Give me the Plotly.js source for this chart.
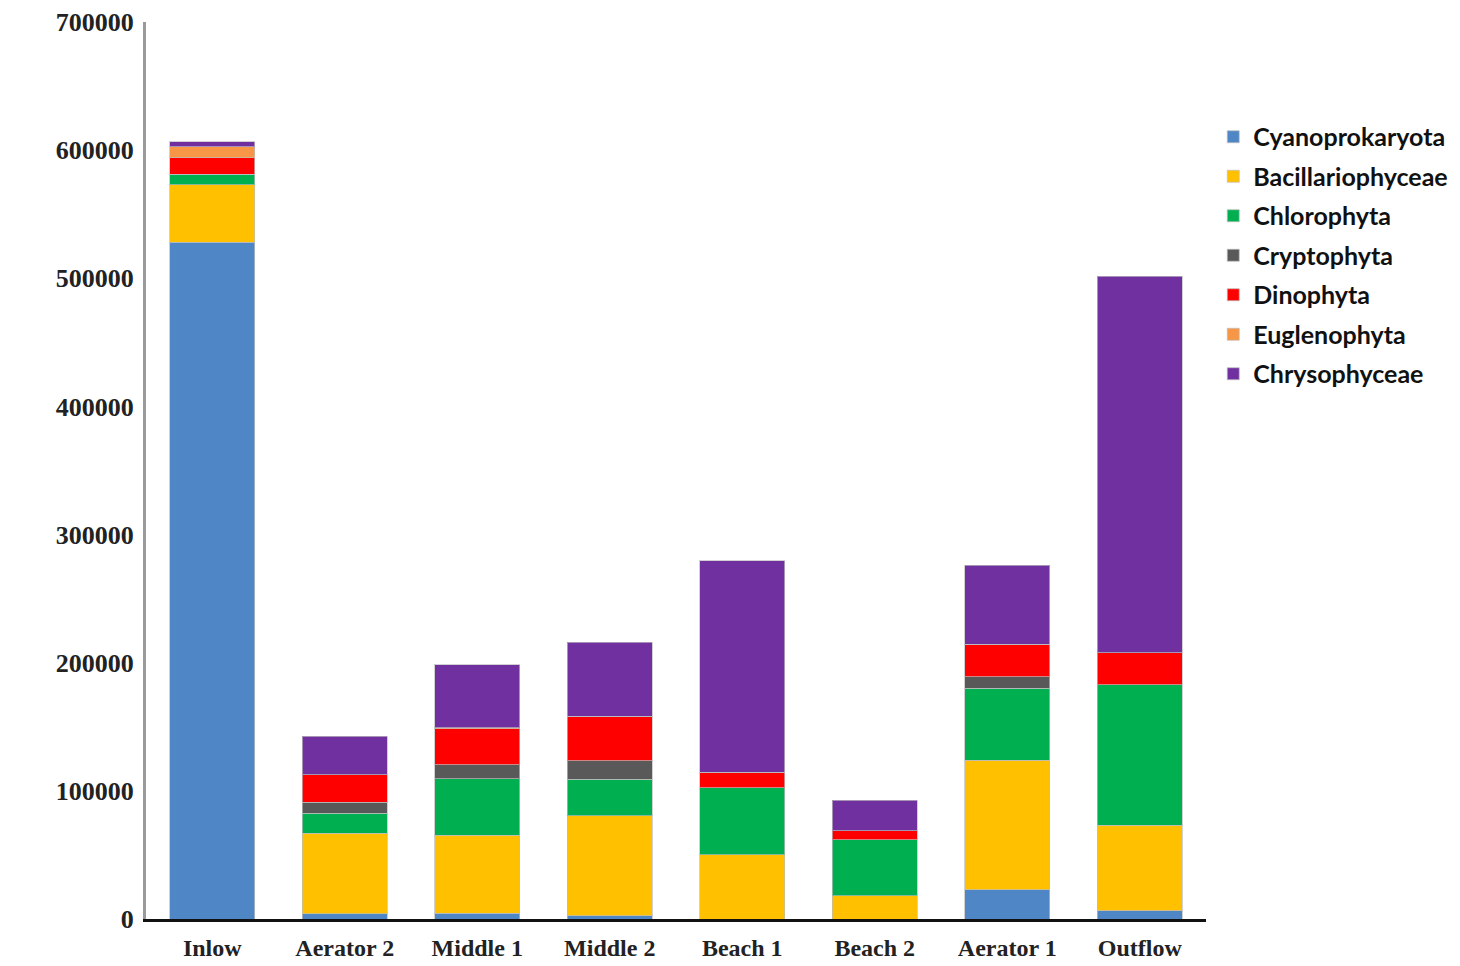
<!DOCTYPE html>
<html>
<head>
<meta charset="utf-8">
<script src="https://cdn.plot.ly/plotly-3.0.1.min.js"></script>
<style>html,body{margin:0;padding:0;background:#fff;}#chart{width:1460px;height:966px;}</style>
</head>
<body>
<div id="chart"></div>
<script>
const sites = ["Inlow", "Aerator 2", "Middle 1", "Middle 2", "Beach 1", "Beach 2", "Aerator 1", "Outflow"];
const cyanoprokaryota  = [528000, 4000, 4500, 2600, 0, 0, 23000, 6500];
const bacillariophyceae = [45000, 63000, 61000, 78000, 50000, 18000, 100700, 66700];
const chlorophyta      = [8000, 15500, 44000, 28300, 52500, 44000, 56300, 109600];
const cryptophyta      = [0, 8500, 11000, 14500, 0, 0, 9200, 0];
const dinophyta        = [13000, 21500, 28000, 35000, 12000, 6700, 25400, 24900];
const euglenophyta     = [8500, 0, 800, 0, 0, 0, 0, 0];
const chrysophyceae    = [4000, 30000, 49000, 57500, 165000, 24000, 61500, 293900];
const yTicks = [0, 100000, 200000, 300000, 400000, 500000, 600000, 700000];

const seriesNames = ["Cyanoprokaryota", "Bacillariophyceae", "Chlorophyta", "Cryptophyta", "Dinophyta", "Euglenophyta", "Chrysophyceae"];
const seriesValues = [cyanoprokaryota, bacillariophyceae, chlorophyta, cryptophyta, dinophyta, euglenophyta, chrysophyceae];
const seriesColors = ["#4F86C6", "#FFC000", "#00B050", "#595959", "#FF0000", "#F79646", "#7030A0"];

const traces = seriesNames.map((n, i) => ({
  type: "bar",
  name: n,
  x: sites,
  y: seriesValues[i],
  legendgroup: "g" + i,
  marker: {color: seriesColors[i], line: {color: "rgba(190,190,190,0.7)", width: 1}},
  hoverinfo: "x+y+name"
}));

const layout = {
  width: 1460,
  height: 966,
  paper_bgcolor: "#ffffff",
  plot_bgcolor: "#ffffff",
  barmode: "stack",
  bargap: 0.36,
  showlegend: true,
  margin: {l: 146, r: 254, t: 22, b: 47, autoexpand: false},
  xaxis: {
    type: "category",
    showline: true,
    linecolor: "#111111",
    linewidth: 2.5,
    showgrid: false,
    zeroline: false,
    ticks: "",
    ticklabelstandoff: 6,
    tickfont: {family: "Liberation Serif, Times New Roman, serif", size: 24, color: "#222222", weight: "bold"}
  },
  yaxis: {
    range: [0, 700000],
    tickvals: yTicks,
    ticktext: yTicks.map(v => String(v)),
    showline: true,
    linecolor: "#9a9a9a",
    linewidth: 3,
    showgrid: false,
    zeroline: false,
    ticks: "",
    ticklabelstandoff: 4,
    tickfont: {family: "Liberation Serif, Times New Roman, serif", size: 26, color: "#222222", weight: "bold"}
  },
  legend: {
    xref: "container",
    yref: "container",
    x: 0.831,
    xanchor: "left",
    y: 0.882,
    yanchor: "top",
    traceorder: "grouped",
    tracegroupgap: 4,
    itemwidth: 30,
    font: {family: "Lato, Noto Sans, sans-serif", size: 25, color: "#111111", weight: "bold"},
    bgcolor: "rgba(0,0,0,0)"
  }
};

Plotly.newPlot("chart", traces, layout, {displayModeBar: false, staticPlot: true});
</script>
</body>
</html>
